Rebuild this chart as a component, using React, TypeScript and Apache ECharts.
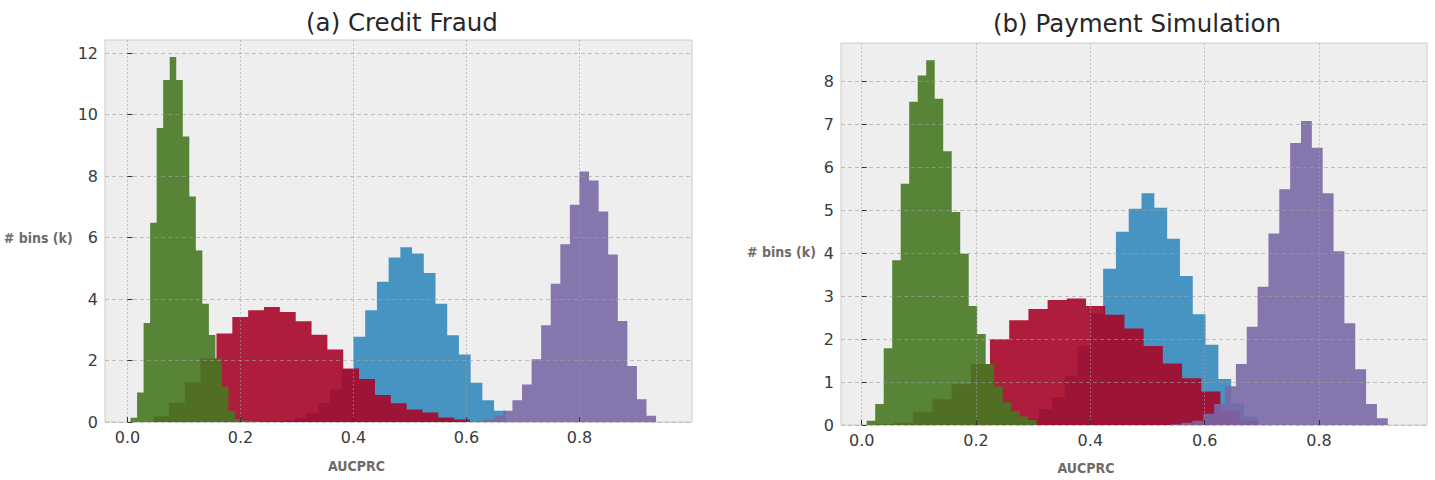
import React, { useEffect, useRef } from "react";
import * as echarts from "echarts";

// ---------- data (histograms: 20 bins each, range = [first edge, last edge]) ----------
// (a) Credit Fraud
const fraudBlueRange = [0.2549, 0.6695];
const fraudBlue = [0.02, 0.05, 0.12, 0.3, 0.61, 1.06, 1.7, 2.77, 3.64, 4.56, 5.35, 5.69, 5.48, 4.85, 3.85, 2.82, 2.2, 1.28, 0.71, 0.37];
const fraudRedRange = [0.0454, 0.6062];
const fraudRed = [0.19, 0.63, 1.29, 2.07, 2.88, 3.42, 3.64, 3.74, 3.58, 3.28, 2.84, 2.36, 1.74, 1.4, 0.88, 0.61, 0.41, 0.31, 0.15, 0.08];
const fraudGreenRange = [0.0055, 0.2365];
const fraudGreen = [0.14, 0.96, 3.22, 6.48, 9.57, 11.13, 11.88, 11.13, 9.29, 7.34, 5.58, 3.85, 2.83, 2.07, 1.15, 0.36, 0.1, 0.05, 0.03, 0.02];
const fraudPurpleRange = [0.5966, 0.9354];
const fraudPurple = [0.02, 0.04, 0.08, 0.2, 0.37, 0.71, 1.22, 2.04, 3.15, 4.5, 5.78, 7.07, 8.15, 7.86, 6.85, 5.45, 3.29, 1.82, 0.74, 0.2];

// (b) Payment Simulation
const payBlueRange = [0.2432, 0.6912];
const payBlue = [0.02, 0.06, 0.15, 0.37, 0.65, 1.15, 1.84, 2.6, 3.64, 4.5, 5.04, 5.4, 5.06, 4.34, 3.47, 2.58, 1.87, 1.07, 0.5, 0.2];
const payRedRange = [0.0229, 0.6949];
const payRed = [0.02, 0.05, 0.31, 0.6, 0.95, 1.42, 2.0, 2.44, 2.7, 2.91, 2.95, 2.77, 2.57, 2.25, 1.84, 1.43, 1.09, 0.78, 0.33, 0.1];
const payGreenRange = [0.00875, 0.3062];
const payGreen = [0.1, 0.49, 1.79, 3.84, 5.62, 7.53, 8.14, 8.5, 7.6, 6.38, 4.96, 3.99, 2.77, 2.12, 1.42, 0.9, 0.53, 0.32, 0.2, 0.12];
const payPurpleRange = [0.5408, 0.9204];
const payPurple = [0.02, 0.05, 0.1, 0.26, 0.49, 0.9, 1.42, 2.29, 3.22, 4.46, 5.49, 6.57, 7.08, 6.46, 5.4, 4.05, 2.37, 1.3, 0.49, 0.16];

const xTicks = [0, 0.2, 0.4, 0.6, 0.8];
const fraudYTicks = [0, 2, 4, 6, 8, 10, 12];
const payYTicks = [0, 1, 2, 3, 4, 5, 6, 7, 8];

const titles = ["(a) Credit Fraud", "(b) Payment Simulation"];
const xName = "AUCPRC";
const yName = "# bins (k)";

// ---------- styling ----------
const COLORS = { blue: "#348ABD", red: "#A60628", green: "#467821", purple: "#7A68A6" };
const TICK_FONT = "DejaVu Sans";
const NAME_FONT = "'Liberation Sans Narrow', 'DejaVu Sans Condensed', Roboto, sans-serif";
const GRID_LINE = "rgba(160,160,160,0.6)";

function histPoints(range: number[], heights: number[]) {
  const n = heights.length;
  const w = (range[1] - range[0]) / n;
  const pts: number[][] = heights.map((h, i) => [range[0] + i * w, h]);
  pts.push([range[1], 0]);
  return pts;
}

function histSeries(range: number[], heights: number[], color: string, gi: number) {
  return {
    type: "line",
    xAxisIndex: gi,
    yAxisIndex: gi,
    step: "end",
    symbol: "none",
    showSymbol: false,
    data: histPoints(range, heights),
    lineStyle: { width: 0, opacity: 0 },
    areaStyle: { color, opacity: 0.9 },
    z: 2,
  };
}

function xAxisCfg(gi: number, min: number, max: number, padRight: number, gap: number) {
  return {
    type: "value",
    gridIndex: gi,
    min,
    max,
    z: 3,
    axisLine: { show: false },
    axisTick: { show: true, inside: true, length: 5, customValues: xTicks, lineStyle: { color: "#333" } },
    axisLabel: {
      customValues: xTicks,
      formatter: (v: number) => v.toFixed(1),
      fontFamily: TICK_FONT,
      fontSize: 16,
      color: "#3a3a3a",
      margin: 7,
    },
    splitLine: { show: true, lineStyle: { color: GRID_LINE, type: [2, 2], width: 1 } },
    name: xName,
    nameLocation: "middle",
    nameGap: gap,
    nameTextStyle: {
      fontFamily: NAME_FONT,
      fontWeight: "bold",
      fontSize: 14,
      color: "#6f6a66",
      padding: [0, padRight, 0, 0],
    },
  };
}

function yAxisCfg(gi: number, max: number, ticks: number[], gap: number, padTop: number) {
  return {
    type: "value",
    gridIndex: gi,
    min: 0,
    max,
    z: 3,
    axisLine: { show: false },
    axisTick: { show: true, inside: true, length: 5, customValues: ticks, lineStyle: { color: "#333" } },
    axisLabel: {
      customValues: ticks,
      formatter: (v: number) => String(v),
      fontFamily: TICK_FONT,
      fontSize: 16,
      color: "#3a3a3a",
      margin: 7,
    },
    splitLine: { show: true, lineStyle: { color: GRID_LINE, type: [4, 3], width: 1 } },
    name: yName,
    nameLocation: "middle",
    nameRotate: 0,
    nameGap: gap,
    nameTextStyle: {
      fontFamily: NAME_FONT,
      fontWeight: "bold",
      fontSize: 14,
      color: "#6f6a66",
      verticalAlign: "top",
      padding: [padTop, 0, 0, 0],
    },
  };
}

export default function App() {
  const ref = useRef<HTMLDivElement>(null);

  useEffect(() => {
    if (!ref.current) return;
    const chart = echarts.init(ref.current, undefined, { renderer: "svg" });
    const gridStyle = {
      show: true,
      backgroundColor: "#eeeeee",
      borderColor: "#cccccc",
      borderWidth: 1,
      containLabel: false,
    };
    chart.setOption({
      animation: false,
      backgroundColor: "#ffffff",
      title: [
        {
          text: titles[0],
          left: 397,
          top: 5,
          textAlign: "center",
          textStyle: { fontFamily: TICK_FONT, fontSize: 24.5, fontWeight: "normal", color: "#262626" },
        },
        {
          text: titles[1],
          left: 1132,
          top: 6,
          textAlign: "center",
          textStyle: { fontFamily: TICK_FONT, fontSize: 24.5, fontWeight: "normal", color: "#262626" },
        },
      ],
      grid: [
        { ...gridStyle, left: 105, top: 40, width: 587, height: 382 },
        { ...gridStyle, left: 841, top: 43, width: 586, height: 383 },
      ],
      xAxis: [xAxisCfg(0, -0.0397, 0.999, 84, 37), xAxisCfg(1, -0.0362, 0.989, 96, 36)],
      yAxis: [yAxisCfg(0, 12.43, fraudYTicks, 23, 0), yAxisCfg(1, 8.9, payYTicks, 25, 11)],
      series: [
        histSeries(fraudBlueRange, fraudBlue, COLORS.blue, 0),
        histSeries(fraudRedRange, fraudRed, COLORS.red, 0),
        histSeries(fraudGreenRange, fraudGreen, COLORS.green, 0),
        histSeries(fraudPurpleRange, fraudPurple, COLORS.purple, 0),
        histSeries(payBlueRange, payBlue, COLORS.blue, 1),
        histSeries(payRedRange, payRed, COLORS.red, 1),
        histSeries(payGreenRange, payGreen, COLORS.green, 1),
        histSeries(payPurpleRange, payPurple, COLORS.purple, 1),
      ],
    });
    return () => chart.dispose();
  }, []);

  return (
    <div
      ref={ref}
      style={{ position: "fixed", left: 0, top: 0, width: 1435, height: 480, background: "#fff" }}
    />
  );
}
